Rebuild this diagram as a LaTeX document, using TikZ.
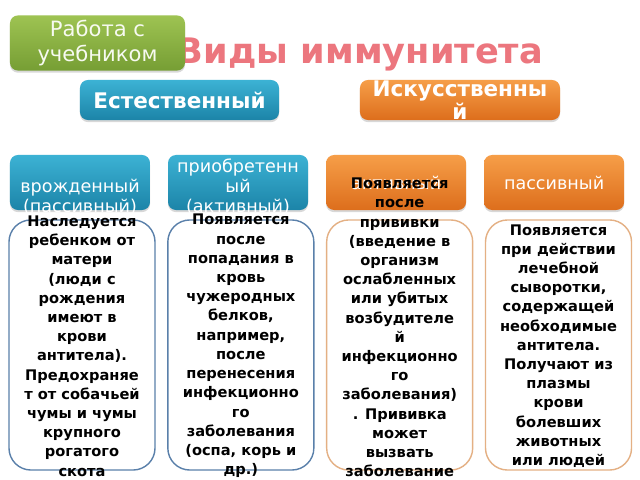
\documentclass[tikz,border=0pt]{standalone}
\usepackage{fontspec}
\setmainfont{DejaVu Sans}
\usetikzlibrary{positioning,shadows}

\definecolor{leafhi}{RGB}{158,195,82}
\definecolor{leaflo}{RGB}{118,158,52}
\definecolor{seahi}{RGB}{60,178,212}
\definecolor{sealo}{RGB}{28,132,168}
\definecolor{rusthi}{RGB}{246,158,72}
\definecolor{rustlo}{RGB}{221,110,28}
\definecolor{titlered}{RGB}{236,118,126}
\definecolor{edgeblue}{RGB}{90,128,170}
\definecolor{edgetan}{RGB}{228,176,132}

\begin{document}
\begin{tikzpicture}[x=0.025cm,y=-0.025cm,node distance=3.95cm,
    box/.style={rounded corners=0.2cm,drop shadow={shadow xshift=0pt,shadow yshift=-1.5pt,opacity=.3}},
    bluebox/.style={box,top color=seahi,bottom color=sealo,draw=none},
    orangebox/.style={box,top color=rusthi,bottom color=rustlo,draw=none},
    kind/.style={bluebox,minimum width=3.5cm,minimum height=1.375cm},
    kindo/.style={orangebox,minimum width=3.5cm,minimum height=1.375cm},
    kindtxt/.style={white,align=center,font=\fontsize{12.5}{14.2}\selectfont},
    card/.style={draw=edgeblue,line width=1pt,fill=white,rounded corners=0.55cm,
                 minimum width=3.65cm,minimum height=6.25cm},
    cardo/.style={card,draw=edgetan},
    cardtxt/.style={align=center,font=\bfseries\fontsize{10.4}{13.66}\selectfont}]
    \useasboundingbox[fill=white] (0,0) rectangle (640,480);

    \node[titlered,anchor=base,font=\bfseries\fontsize{25}{30}\selectfont] (title) at (360,63) {Виды иммунитета};
    \node[box,top color=leafhi,bottom color=leaflo,minimum width=4.375cm,minimum height=1.375cm,
          text=white!92!leafhi,align=center,font=\fontsize{15}{17.8}\selectfont] (work) at (97.5,43) {Работа с\\учебником};

    \node[bluebox,minimum width=4.975cm,minimum height=1cm,text=white,font=\bfseries\fontsize{15.3}{17}\selectfont] (nat) at (179.5,100) {Естественный};
    \node[orangebox,minimum width=5cm,minimum height=1cm] (art) at (460,100) {};
    \node[white,align=center,font=\bfseries\fontsize{15.3}{14.2}\selectfont] (arttxt) at (art.center) {Искусственны\\й};

    % second row
    \node[kind]  (inborn)               at (80,182.5) {};
    \node[kind]  (gained) [right of=inborn] {};
    \node[kindo] (active) [right of=gained] {};
    \node[kindo] (passive)[right of=active] {};

    \node[kindtxt] (inborntxt)  at ([yshift=-14.5*0.025cm]inborn.center) {врожденный\\(пассивный)};
    \node[kindtxt] (gainedtxt)  at ([yshift=-4.5*0.025cm]gained.center) {приобретенн\\ый\\(активный)};
    \node[kindtxt] (activetxt)  at (active.center) {активный};
    \node[kindtxt] (passivetxt) at (passive.center) {пассивный};

    % cards
    \node[card]  (c1) at (82,345) {};
    \node[card]  (c2) [right of=c1,node distance=3.97cm] {};
    \node[cardo] (c3) [right of=c2,node distance=3.97cm] {};
    \node[cardo] (c4) [right of=c3,node distance=3.97cm] {};

    \node[cardtxt] (t1) at ([yshift=-1*0.025cm]c1.center) {Наследуется\\ребенком от\\матери\\(люди с\\рождения\\имеют в\\крови\\антитела).\\Предохраняе\\т от собачьей\\чумы и чумы\\крупного\\рогатого\\скота};
    \node[cardtxt] (t2) at ([yshift=-1*0.025cm]c2.center) {Появляется\\после\\попадания в\\кровь\\чужеродных\\белков,\\например,\\после\\перенесения\\инфекционно\\го\\заболевания\\(оспа, корь и\\др.)};
    \node[cardtxt] (t3) at ([yshift=17.5*0.025cm]c3.center) {Появляется\\после\\прививки\\(введение в\\организм\\ослабленных\\или убитых\\возбудителе\\й\\инфекционно\\го\\заболевания)\\. Прививка\\может\\вызвать\\заболевание};
    \node[cardtxt] (t4) at ([yshift=-1*0.025cm]c4.center) {Появляется\\при действии\\лечебной\\сыворотки,\\содержащей\\необходимые\\антитела.\\Получают из\\плазмы\\крови\\болевших\\животных\\или людей};
\end{tikzpicture}
\end{document}
